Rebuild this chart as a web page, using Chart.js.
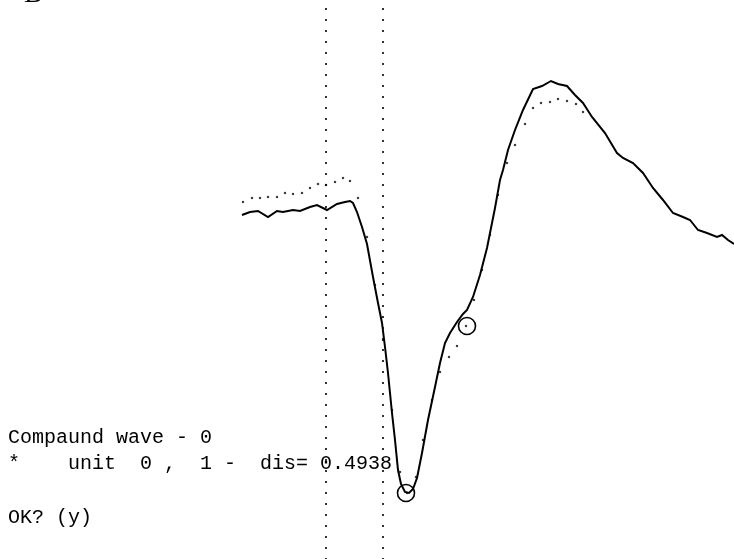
<!DOCTYPE html>
<html>
<head>
<meta charset="utf-8">
<script src="https://cdn.jsdelivr.net/npm/chart.js@4.4.0/dist/chart.umd.min.js"></script>
<style>
    body { margin: 0; background: #fff; }
    #wrap { position: relative; width: 734px; height: 559px; overflow: hidden; }
    #waveChart { position: absolute; left: 0; top: 0; }
    .txt {
        position: absolute; left: 8px; margin: 0; white-space: pre;
        font-family: "Liberation Mono", "DejaVu Sans Mono", monospace;
        font-size: 20px; line-height: 20px; color: #000;
    }
    #panel {
        position: absolute; left: 24px; top: -21px; margin: 0;
        font-family: "Liberation Serif", serif; font-size: 28px; line-height: 28px; color: #000;
    }
</style>
</head>
<body>
<div id="wrap">
    <canvas id="waveChart" width="734" height="559"></canvas>
    <div id="panel">B</div>
    <pre class="txt" style="top:428px">Compaund wave - 0</pre>
    <pre class="txt" style="top:454px">*    unit  0 ,  1 -  dis= 0.4938</pre>
    <pre class="txt" style="top:508px">OK? (y)</pre>
</div>
<script>
// recorded wave (solid trace), screen units: time to the right, amplitude downwards
const waveX = [242, 250, 258, 268, 277, 283, 293, 300, 310, 317, 327, 337, 345, 350, 353, 357, 362, 367, 373, 378,
    382, 385, 388, 392, 395, 398, 401, 405, 409, 413, 417, 422, 428, 435, 440, 445, 450, 457, 463, 467,
    473, 480, 487, 495, 500, 503, 508, 515, 523, 533, 542, 551, 558, 567, 575, 583, 592, 605, 617, 623,
    633, 643, 653, 663, 673, 683, 690, 698, 707, 717, 722, 728, 734];
const waveY = [215, 212, 211, 217, 211, 212, 210, 211, 207, 205, 210, 204, 202, 201, 203, 212, 227, 244, 277, 303,
    323, 347, 373, 413, 440, 470, 484, 492, 493, 489, 478, 453, 420, 387, 363, 343, 333, 322, 314, 310,
    297, 275, 248, 208, 180, 170, 150, 130, 110, 89, 86, 81, 84, 86, 95, 103, 117, 133, 153, 158,
    163, 173, 188, 200, 213, 217, 220, 230, 233, 237, 235, 240, 244];

// fitted compound wave (dotted samples)
const modelX = [243, 252, 260, 268, 277, 285, 293, 302, 310, 318, 326, 335, 343, 350, 358, 367, 375, 383, 392, 400,
    407, 416, 423, 432, 440, 449, 457, 466, 474, 482, 490, 498, 507, 515, 525, 533, 541, 550, 558, 567, 576, 583];
const modelY = [202, 198, 198, 197, 197, 193, 194, 193, 188, 184, 185, 182, 178, 181, 198, 237, 285, 340, 410, 472,
    493, 477, 440, 400, 372, 357, 346, 326, 300, 270, 235, 195, 163, 145, 124, 108, 103, 102, 99, 101, 104, 112];

// picked extrema (circles)
const markerX = [406, 467];
const markerY = [493, 326];

// cursor positions (vertical dotted lines)
const cursorX = [326, 383];

const toPoints = (xs, ys) => xs.map((x, i) => ({ x: x, y: ys[i] }));

const cursorSets = cursorX.map(x => ({
    data: [{ x: x, y: 0 }, { x: x, y: 559 }],
    showLine: true,
    borderColor: '#000',
    borderWidth: 1.6,
    borderDash: [2, 9],
    borderDashOffset: 3,
    pointRadius: 0
}));

const ctx = document.getElementById('waveChart').getContext('2d');
new Chart(ctx, {
    type: 'scatter',
    data: {
        datasets: [
            {
                data: toPoints(waveX, waveY),
                showLine: true,
                borderColor: '#000',
                borderWidth: 2,
                tension: 0,
                pointRadius: 0
            },
            {
                data: toPoints(modelX, modelY),
                showLine: false,
                pointStyle: 'rect',
                pointRadius: 1,
                backgroundColor: '#000',
                borderColor: '#000',
                borderWidth: 0.5
            },
            {
                data: toPoints(markerX, markerY),
                showLine: false,
                pointStyle: 'circle',
                pointRadius: 8.5,
                backgroundColor: 'rgba(0,0,0,0)',
                borderColor: '#000',
                borderWidth: 1.6
            },
            ...cursorSets
        ]
    },
    options: {
        responsive: false,
        animation: false,
        devicePixelRatio: 1,
        layout: { padding: 0, autoPadding: false },
        plugins: {
            legend: { display: false },
            tooltip: { enabled: false }
        },
        scales: {
            x: { type: 'linear', display: false, min: 0, max: 734 },
            y: { type: 'linear', display: false, min: 0, max: 559, reverse: true }
        }
    }
});
</script>
</body>
</html>
